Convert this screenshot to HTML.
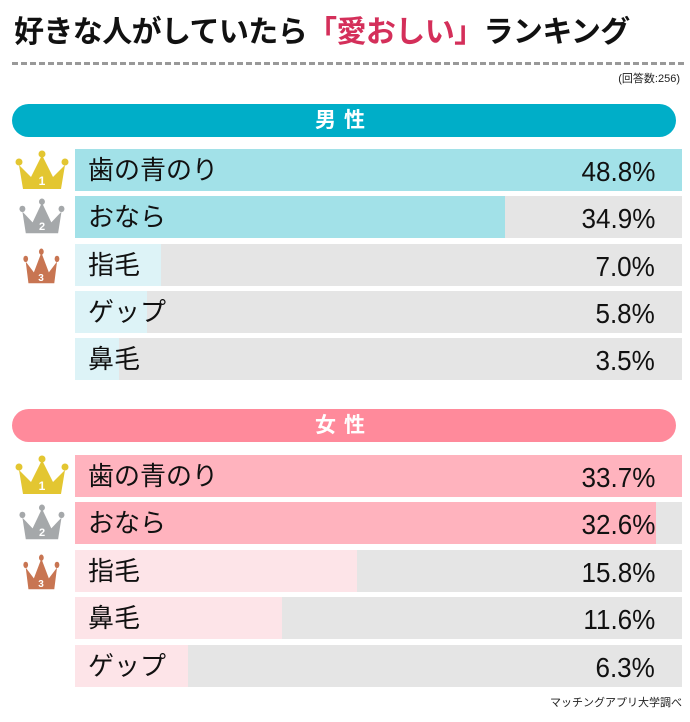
<!DOCTYPE html>
<html><head><meta charset="utf-8"><style>
body{margin:0;width:690px;height:722px;background:#fff;position:relative;overflow:hidden;font-family:"Liberation Sans","Noto Sans CJK JP",sans-serif;}
.a{position:absolute;}
.title{left:14px;top:7px;font-size:30px;font-weight:bold;color:#111;letter-spacing:-0.6px;white-space:nowrap;}
.title span{color:#d42f5a;}
.dash{left:12px;top:62px;width:672px;border-top:3px dashed #999;}
.hdr{left:12px;width:664px;height:33px;border-radius:17px;color:#fff;font-size:21px;font-weight:bold;text-align:center;line-height:33px;letter-spacing:8px;}
.row{left:75px;width:607px;height:42px;background:#e5e5e5;}
.row .f{position:absolute;left:0;top:0;height:42px;}
.row .l{position:absolute;left:13px;top:0;line-height:42px;font-size:26px;color:#111;}
.row .p{position:absolute;right:27px;top:1px;line-height:44px;font-size:28px;color:#111;transform:scaleX(0.93);transform-origin:right center;}
</style></head><body>
<div class="a title">好きな人がしていたら<span>「愛おしい」</span>ランキング</div>
<div class="a dash"></div>
<div class="a" style="right:10px;top:70px;font-size:11px;color:#222">(回答数:256)</div>

<div class="a hdr" style="top:104px;background:#00aec8">男性</div>
<div class="a row" style="top:149px"><div class="f" style="width:607px;background:#a2e1e8"></div><div class="l">歯の青のり</div><div class="p">48.8%</div></div>
<div class="a row" style="top:196px"><div class="f" style="width:430px;background:#a2e1e8"></div><div class="l">おなら</div><div class="p">34.9%</div></div>
<div class="a row" style="top:244px"><div class="f" style="width:86px;background:#ddf3f7"></div><div class="l">指毛</div><div class="p">7.0%</div></div>
<div class="a row" style="top:291px"><div class="f" style="width:72px;background:#ddf3f7"></div><div class="l">ゲップ</div><div class="p">5.8%</div></div>
<div class="a row" style="top:338px"><div class="f" style="width:44px;background:#ddf3f7"></div><div class="l">鼻毛</div><div class="p">3.5%</div></div>

<div class="a hdr" style="top:409px;background:#ff8a9b">女性</div>
<div class="a row" style="top:455px"><div class="f" style="width:607px;background:#ffb3be"></div><div class="l">歯の青のり</div><div class="p">33.7%</div></div>
<div class="a row" style="top:502px"><div class="f" style="width:581px;background:#ffb3be"></div><div class="l">おなら</div><div class="p">32.6%</div></div>
<div class="a row" style="top:550px"><div class="f" style="width:282px;background:#fde4e8"></div><div class="l">指毛</div><div class="p">15.8%</div></div>
<div class="a row" style="top:597px"><div class="f" style="width:207px;background:#fde4e8"></div><div class="l">鼻毛</div><div class="p">11.6%</div></div>
<div class="a row" style="top:645px"><div class="f" style="width:113px;background:#fde4e8"></div><div class="l">ゲップ</div><div class="p">6.3%</div></div>

<div class="a" style="right:8px;top:694px;font-size:11px;color:#222">マッチングアプリ大学調べ</div>

<svg class="a" style="left:0;top:0" width="80" height="722" viewBox="0 0 80 722">
<defs>
<g id="c"><polygon points="4,14 16,26 27,4 38,26 50,14 46,38 8,38"/><circle cx="4" cy="11" r="3.5"/><circle cx="27" cy="3" r="3.5"/><circle cx="50" cy="11" r="3.5"/></g>
</defs>
<g fill="#e3c631"><use href="#c" x="15" y="151"/></g>
<text x="42" y="185" font-size="12" fill="#fff" text-anchor="middle" font-weight="bold" font-family="Liberation Sans">1</text>
<g fill="#a5a8aa"><use href="#c" transform="translate(19,199) scale(0.85,0.9)"/></g>
<text x="42" y="230" font-size="11" fill="#fff" text-anchor="middle" font-weight="bold" font-family="Liberation Sans">2</text>
<g fill="#c87552"><use href="#c" transform="translate(23,249) scale(0.68,0.9)"/></g>
<text x="41" y="281" font-size="10" fill="#fff" text-anchor="middle" font-weight="bold" font-family="Liberation Sans">3</text>
<g fill="#e3c631"><use href="#c" x="15" y="456"/></g>
<text x="42" y="490" font-size="12" fill="#fff" text-anchor="middle" font-weight="bold" font-family="Liberation Sans">1</text>
<g fill="#a5a8aa"><use href="#c" transform="translate(19,505) scale(0.85,0.9)"/></g>
<text x="42" y="536" font-size="11" fill="#fff" text-anchor="middle" font-weight="bold" font-family="Liberation Sans">2</text>
<g fill="#c87552"><use href="#c" transform="translate(23,555) scale(0.68,0.9)"/></g>
<text x="41" y="587" font-size="10" fill="#fff" text-anchor="middle" font-weight="bold" font-family="Liberation Sans">3</text>
</svg>
</body></html>
